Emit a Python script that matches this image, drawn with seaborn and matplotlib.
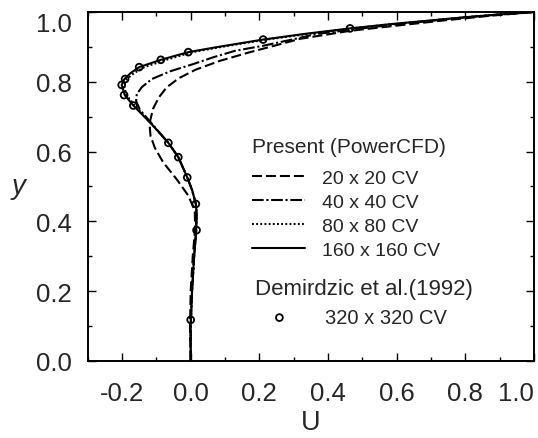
import numpy as np
import pandas as pd
import matplotlib
matplotlib.use('Agg')
import matplotlib.pyplot as plt
import seaborn as sns

# Perfiles de velocidad U(y)
y_20 = [0, 0.1, 0.2, 0.3, 0.38, 0.43, 0.474, 0.521, 0.569, 0.61, 0.645, 0.68, 0.722, 0.755,
        0.784, 0.81, 0.835, 0.86, 0.885, 0.905, 0.923, 0.946, 0.961, 0.975, 0.988, 1.0]
u_20 = [0, -0.002, 0.0, 0.006, 0.013, 0.012, -0.007, -0.041, -0.080, -0.104, -0.117, -0.120,
        -0.110, -0.093, -0.070, -0.035, 0.015, 0.085, 0.173, 0.25, 0.318, 0.464, 0.601, 0.73,
        0.86, 1.0]

y_40 = [0, 0.1, 0.2, 0.3, 0.375, 0.45, 0.49, 0.526, 0.584, 0.625, 0.68, 0.72, 0.745, 0.765,
        0.785, 0.808, 0.83, 0.851, 0.87, 0.889, 0.903, 0.92, 0.937, 0.953, 0.965, 0.977, 0.99, 1.0]
u_40 = [0, 0, 0.004, 0.01, 0.016, 0.015, 0.004, -0.010, -0.036, -0.065, -0.113, -0.148, -0.159,
        -0.157, -0.142, -0.113, -0.060, 0.008, 0.065, 0.13, 0.21, 0.29, 0.367, 0.50, 0.60, 0.72,
        0.86, 1.0]

y_fine = [0.0, 0.1, 0.2, 0.3, 0.375, 0.42, 0.45, 0.49, 0.526, 0.584, 0.625, 0.68, 0.732, 0.762,
          0.791, 0.808, 0.825, 0.842, 0.863, 0.885, 0.9, 0.921, 0.937, 0.953, 0.965, 0.975,
          0.985, 0.993, 1.0]
u_80 = [0.0, 0.0, 0.004, 0.01, 0.016, 0.018, 0.015, 0.004, -0.010, -0.036, -0.065, -0.115,
        -0.163, -0.187, -0.195, -0.186, -0.165, -0.135, -0.072, 0.005, 0.09, 0.22, 0.34, 0.47,
        0.585, 0.695, 0.80, 0.90, 1.0]
u_160 = [0.0, 0.0, 0.004, 0.01, 0.016, 0.018, 0.015, 0.004, -0.010, -0.036, -0.065, -0.115,
         -0.167, -0.192, -0.201, -0.193, -0.175, -0.150, -0.087, -0.007, 0.08, 0.211, 0.33,
         0.464, 0.58, 0.69, 0.80, 0.90, 1.0]

# Demirdzic et al. (1992), 320 x 320 CV
y_ref = [0.118, 0.375, 0.450, 0.526, 0.584, 0.625, 0.732, 0.762, 0.791, 0.808, 0.842, 0.863,
         0.885, 0.921, 0.953]
u_ref = [0.0, 0.017, 0.015, -0.010, -0.036, -0.065, -0.167, -0.194, -0.201, -0.191, -0.150,
         -0.087, -0.007, 0.211, 0.464]

labels = ['20 x 20 CV', '40 x 40 CV', '80 x 80 CV', '160 x 160 CV']
ref_label = '320 x 320 CV'
xticks = [-0.2, 0.0, 0.2, 0.4, 0.6, 0.8, 1.0]
xtick_labels = ['-0.2', '0.0', '0.2', '0.4', '0.6', '0.8', '1.0']
yticks = [0.0, 0.2, 0.4, 0.6, 0.8, 1.0]
ytick_labels = ['0.0', '0.2', '0.4', '0.6', '0.8', '1.0']

sns.set_style('ticks', {'xtick.direction': 'in', 'ytick.direction': 'in'})
plt.rcParams['font.family'] = ['Liberation Sans', 'DejaVu Sans']

fig = plt.figure(figsize=(5.38, 4.39), dpi=100)
ax = fig.add_axes([0.163, 0.1754, 0.8296, 0.7950])

estilos = [(0, (4.8, 1.9)), (0, (5.6, 1.3, 1.0, 1.3)), (0, (0.9, 1.1)), '-']
curvas = [(u_20, y_20), (u_40, y_40), (u_80, y_fine), (u_160, y_fine)]
lineas = []
for (u, yy), ls, lab in zip(curvas, estilos, labels):
    sns.lineplot(x=u, y=yy, sort=False, estimator=None, color='black', linewidth=1.5,
                 linestyle=ls, label=lab, legend=False, ax=ax)
    lineas.append(ax.get_lines()[-1])

sns.scatterplot(x=u_ref, y=y_ref, marker='o', s=24, facecolor='none', edgecolor='black',
                linewidth=1.3, label=ref_label, legend=False, ax=ax, zorder=5)
puntos = ax.collections[-1]

ax.set_xlim(-0.3, 1.0)
ax.set_ylim(0.0, 1.0)
ax.set_xticks(xticks, labels=xtick_labels)
ax.set_yticks(yticks, labels=ytick_labels)
ax.set_xticks(np.arange(-0.3, 1.0, 0.1).round(2), minor=True)
ax.set_yticks(np.arange(0.1, 1.0, 0.2).round(2), minor=True)
ax.tick_params(which='both', direction='in', top=True, right=True, width=1.0, color='black')
ax.tick_params(which='major', length=6, labelsize=18.5)
ax.tick_params(which='minor', length=3)
ax.tick_params(axis='x', which='major', pad=14.5)
ax.tick_params(axis='y', which='major', pad=11.5)
for s in ax.spines.values():
    s.set_linewidth(1.4)
    s.set_color('black')

# "1.0" pegados a las esquinas como en el original
ax.get_xticklabels()[-1].set_horizontalalignment('right')
ax.get_yticklabels()[-1].set_verticalalignment('top')

ax.set_xlabel('U', fontsize=19.5)
ax.xaxis.set_label_coords(0.5, -0.175)
ax.xaxis.label.set_va('center')
ax.set_ylabel('y', fontsize=20, style='italic', rotation=0)
ax.yaxis.set_label_coords(-0.156, 0.5)
ax.yaxis.label.set_va('center')
ax.yaxis.label.set_ha('center')

# Leyendas
ax.text(0.3686, 0.616, 'Present (PowerCFD)', transform=ax.transAxes, fontsize=15,
        ha='left', va='center')
leg1 = ax.legend(handles=lineas, labels=labels, loc='center left',
                 bbox_to_anchor=(0.3686, 0.421), frameon=False, fontsize=14,
                 borderpad=0, borderaxespad=0, handlelength=2.7, handletextpad=0.9,
                 labelspacing=0.33)
ax.add_artist(leg1)
ax.text(0.375, 0.209, 'Demirdzic et al.(1992)', transform=ax.transAxes, fontsize=16,
        ha='left', va='center')
ax.legend(handles=[puntos], labels=[ref_label], loc='center left',
          bbox_to_anchor=(0.3686, 0.125), frameon=False, fontsize=14.5,
          borderpad=0, borderaxespad=0, handlelength=2.7, handletextpad=0.9,
          scatterpoints=1)

fig.savefig('out.png', dpi=100)
